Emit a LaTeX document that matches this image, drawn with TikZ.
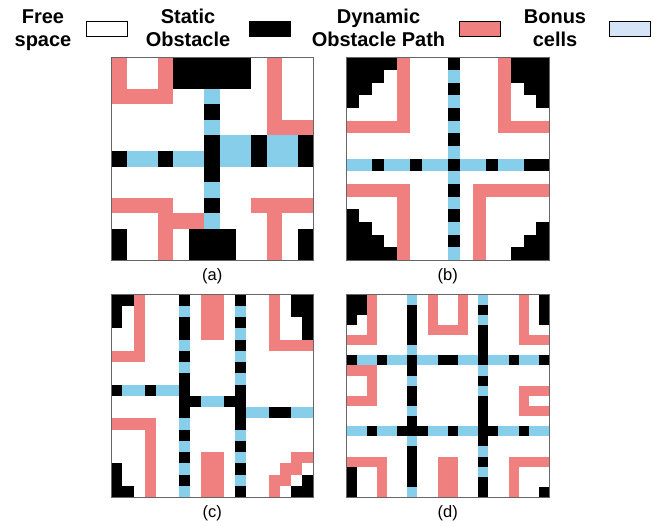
\documentclass[tikz,border=0pt]{standalone}
\usepackage{fontspec}
\setmainfont{Liberation Sans}
\definecolor{dpath}{HTML}{F08080}
\definecolor{bonus}{HTML}{87CEEB}
\definecolor{bonuslegend}{HTML}{D5E5F7}
\definecolor{framegray}{HTML}{666666}
\begin{document}
\begin{tikzpicture}[x=1pt,y=-1pt,
  blk/.style={fill=black},
  dyn/.style={fill=dpath},
  bon/.style={fill=bonus},
  legtxt/.style={font=\fontsize{20}{24}\selectfont\bfseries, anchor=base, inner sep=0pt},
  legbox/.style={draw=black, line width=0.9pt, minimum width=41pt, minimum height=15.5pt, inner sep=0pt},
  capt/.style={font=\fontsize{16.5}{19}\selectfont, anchor=base, inner sep=0pt},
  gridframe/.style={draw=framegray, line width=0.8pt}]
\useasboundingbox (0,0) rectangle (654,527);
\fill[white] (0,0) rectangle (654,527);

% legend
\node[legtxt] (free1) at (43,23.3) {Free};
\node[legtxt] (free2) at (43,46.7) {space};
\node[legbox, fill=white] (boxfree) at (106.5,29.2) {};
\node[legtxt] (stat1) at (188,23.3) {Static};
\node[legtxt] (stat2) at (188,46.7) {Obstacle};
\node[legbox, fill=black] (boxstat) at (269.5,29.2) {};
\node[legtxt] (dyn1) at (378.5,23.3) {Dynamic};
\node[legtxt] (dyn2) at (378.5,46.7) {Obstacle Path};
\node[legbox, fill=dpath] (boxdyn) at (479.5,29.2) {};
\node[legtxt] (bon1) at (555,23.3) {Bonus};
\node[legtxt] (bon2) at (555,46.7) {cells};
\node[legbox, fill=bonuslegend] (boxbon) at (629.5,29.2) {};

% ---------------- grid (a) 13x13
\begin{scope}[xshift=111pt, yshift=-57.5pt, x=15.577pt, y=-15.577pt]
  \fill[white] (0,0) rectangle (13,13);
  % dynamic paths
  \fill[dyn] (0,2) rectangle (4,3);
  \fill[dyn] (0,0) rectangle (1,2);
  \fill[dyn] (3,0) rectangle (4,2);
  \fill[dyn] (10,0) rectangle (11,5);
  \fill[dyn] (11,4) rectangle (13,5);
  \fill[dyn] (0,9) rectangle (4,10);
  \fill[dyn] (3,10) rectangle (4,13);
  \fill[dyn] (4,10) rectangle (6,11);
  \fill[dyn] (9,9) rectangle (13,10);
  \fill[dyn] (10,10) rectangle (11,13);
  % bonus
  \foreach \r in {2,4,8,10} \fill[bon] (6,\r) rectangle (7,\r+1);
  \fill[bon] (1,6) rectangle (3,7);
  \fill[bon] (4,6) rectangle (6,7);
  \fill[bon] (7,5) rectangle (9,7);
  \fill[bon] (10,5) rectangle (12,7);
  % static
  \fill[blk] (4,0) rectangle (9,2);
  \fill[blk] (6,3) rectangle (7,4);
  \fill[blk] (6,5) rectangle (7,8);
  \fill[blk] (6,9) rectangle (7,10);
  \fill[blk] (5,11) rectangle (8,13);
  \fill[blk] (0,11) rectangle (1,13);
  \fill[blk] (12,11) rectangle (13,13);
  \fill[blk] (0,6) rectangle (1,7);
  \fill[blk] (3,6) rectangle (4,7);
  \fill[blk] (9,5) rectangle (10,7);
  \fill[blk] (12,5) rectangle (13,7);
  \draw[gridframe] (0,0) rectangle (13,13);
\end{scope}

% ---------------- grid (b) 16x16
\begin{scope}[xshift=346.5pt, yshift=-57.5pt, x=12.656pt, y=-12.656pt]
  \fill[white] (0,0) rectangle (16,16);
  \fill[dyn] (4,0) rectangle (5,6);
  \fill[dyn] (0,5) rectangle (4,6);
  \fill[dyn] (12,0) rectangle (13,6);
  \fill[dyn] (13,5) rectangle (16,6);
  \fill[dyn] (0,10) rectangle (5,11);
  \fill[dyn] (4,11) rectangle (5,16);
  \fill[dyn] (10,10) rectangle (16,11);
  \fill[dyn] (10,11) rectangle (11,16);
  \foreach \r in {1,3,...,15} \fill[bon] (8,\r) rectangle (9,\r+1);
  \foreach \a/\b in {0/2,3/5,6/8,9/11,12/14} \fill[bon] (\a,8) rectangle (\b,9);
  \foreach \r in {0,2,...,14} \fill[blk] (8,\r) rectangle (9,\r+1);
  \foreach \a/\b in {2/3,5/6,11/12,14/16} \fill[blk] (\a,8) rectangle (\b,9);
  \fill[blk] (0,0) rectangle (4,1);
  \fill[blk] (0,1) rectangle (3,2);
  \fill[blk] (0,2) rectangle (2,3);
  \fill[blk] (0,3) rectangle (1,4);
  \fill[blk] (13,0) rectangle (16,2);
  \fill[blk] (14,2) rectangle (16,3);
  \fill[blk] (15,3) rectangle (16,4);
  \fill[blk] (0,12) rectangle (1,13);
  \fill[blk] (0,13) rectangle (2,14);
  \fill[blk] (0,14) rectangle (3,15);
  \fill[blk] (0,15) rectangle (4,16);
  \fill[blk] (15,13) rectangle (16,14);
  \fill[blk] (14,14) rectangle (16,15);
  \fill[blk] (13,15) rectangle (16,16);
  \draw[gridframe] (0,0) rectangle (16,16);
\end{scope}

% ---------------- grid (c) 18x18
\begin{scope}[xshift=111pt, yshift=-294.5pt, x=11.25pt, y=-11.25pt]
  \fill[white] (0,0) rectangle (18,18);
  \fill[dyn] (2,0) rectangle (3,6);
  \fill[dyn] (0,5) rectangle (2,6);
  \fill[dyn] (8,0) rectangle (10,4);
  \fill[dyn] (14,0) rectangle (15,5);
  \fill[dyn] (15,4) rectangle (18,5);
  \fill[dyn] (0,11) rectangle (4,12);
  \fill[dyn] (3,12) rectangle (4,18);
  \fill[dyn] (8,14) rectangle (10,18);
  \fill[dyn] (16,14) rectangle (18,15);
  \fill[dyn] (15,15) rectangle (17,16);
  \fill[dyn] (14,16) rectangle (16,17);
  \fill[dyn] (14,17) rectangle (15,18);
  \foreach \r in {1,4,6,11,13,15,17} \fill[bon] (6,\r) rectangle (7,\r+1);
  \foreach \r in {1,3,5,7,12,14,16} \fill[bon] (11,\r) rectangle (12,\r+1);
  \fill[bon] (1,8) rectangle (3,9);
  \fill[bon] (4,8) rectangle (6,9);
  \fill[bon] (8,9) rectangle (10,10);
  \fill[bon] (12,10) rectangle (14,11);
  \fill[bon] (16,10) rectangle (18,11);
  \foreach \a/\b in {0/1,2/4,5/6,7/11,12/13,14/15,16/17} \fill[blk] (6,\a) rectangle (7,\b);
  \foreach \a/\b in {0/1,2/3,4/5,6/7,8/12,13/14,15/16,17/18} \fill[blk] (11,\a) rectangle (12,\b);
  \fill[blk] (0,8) rectangle (1,9);
  \fill[blk] (3,8) rectangle (4,9);
  \fill[blk] (7,9) rectangle (8,10);
  \fill[blk] (10,9) rectangle (11,10);
  \fill[blk] (14,10) rectangle (16,11);
  \fill[blk] (0,0) rectangle (2,1);
  \fill[blk] (0,1) rectangle (1,3);
  \fill[blk] (16,0) rectangle (18,2);
  \fill[blk] (17,2) rectangle (18,4);
  \fill[blk] (0,15) rectangle (1,18);
  \fill[blk] (1,17) rectangle (2,18);
  \fill[blk] (17,16) rectangle (18,17);
  \fill[blk] (16,17) rectangle (18,18);
  \draw[gridframe] (0,0) rectangle (18,18);
\end{scope}

% ---------------- grid (d) 20x20
\begin{scope}[xshift=346.5pt, yshift=-294.5pt, x=10.125pt, y=-10.125pt]
  \fill[white] (0,0) rectangle (20,20);
  \fill[dyn] (2,0) rectangle (3,5);
  \fill[dyn] (0,4) rectangle (2,5);
  \fill[dyn] (8,0) rectangle (9,4);
  \fill[dyn] (11,0) rectangle (12,4);
  \fill[dyn] (9,3) rectangle (11,4);
  \fill[dyn] (17,0) rectangle (18,5);
  \fill[dyn] (18,4) rectangle (20,5);
  \fill[dyn] (0,7) rectangle (3,8);
  \fill[dyn] (2,8) rectangle (3,11);
  \fill[dyn] (0,10) rectangle (2,11);
  \fill[dyn] (17,9) rectangle (20,10);
  \fill[dyn] (17,10) rectangle (18,12);
  \fill[dyn] (18,11) rectangle (20,12);
  \fill[dyn] (0,16) rectangle (4,17);
  \fill[dyn] (3,17) rectangle (4,20);
  \fill[dyn] (9,16) rectangle (11,20);
  \fill[dyn] (16,16) rectangle (20,17);
  \fill[dyn] (16,17) rectangle (17,20);
  \foreach \r in {0,5,8,11,14,19} \fill[bon] (6,\r) rectangle (7,\r+1);
  \foreach \r in {0,2,7,9,15,17} \fill[bon] (13,\r) rectangle (14,\r+1);
  \foreach \a/\b in {1/3,4/6,7/9,11/13,14/16,17/19} \fill[bon] (\a,6) rectangle (\b,7);
  \foreach \a/\b in {0/2,3/5,8/10,11/13,15/17,18/20} \fill[bon] (\a,13) rectangle (\b,14);
  \foreach \a/\b in {1/5,6/8,9/11,12/14,15/19} \fill[blk] (6,\a) rectangle (7,\b);
  \foreach \a/\b in {1/2,3/7,8/9,10/15,16/17,18/20} \fill[blk] (13,\a) rectangle (14,\b);
  \foreach \a/\b in {0/1,3/4,9/11,16/17,19/20} \fill[blk] (\a,6) rectangle (\b,7);
  \foreach \a/\b in {2/3,5/8,10/11,13/15,17/18} \fill[blk] (\a,13) rectangle (\b,14);
  \fill[blk] (0,0) rectangle (2,2);
  \fill[blk] (0,2) rectangle (1,3);
  \fill[blk] (19,0) rectangle (20,3);
  \fill[blk] (0,17) rectangle (1,20);
  \fill[blk] (19,19) rectangle (20,20);
  \draw[gridframe] (0,0) rectangle (20,20);
\end{scope}

% captions
\node[capt] (capa) at (212.25,280) {(a)};
\node[capt] (capb) at (447.75,280) {(b)};
\node[capt] (capc) at (212.25,517) {(c)};
\node[capt] (capd) at (447.75,517) {(d)};
\end{tikzpicture}
\end{document}
